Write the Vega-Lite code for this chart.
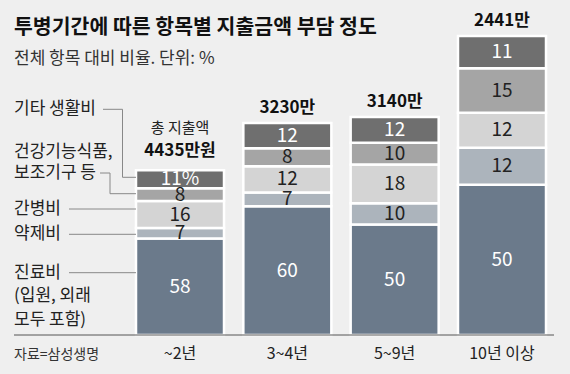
{
  "$schema": "https://vega.github.io/schema/vega-lite/v6.json",
  "width": 540,
  "height": 260,
  "autosize": {"type": "none"},
  "padding": {"left": 14, "top": 75, "right": 16, "bottom": 39},
  "background": "#efefef",
  "config": {"view": {"stroke": null}, "font": "Noto Sans CJK KR"},
  "title": {
    "text": "투병기간에 따른 항목별 지출금액 부담 정도",
    "subtitle": "전체 항목 대비 비율. 단위: %",
    "anchor": "start",
    "frame": "group",
    "font": "Noto Sans CJK KR",
    "fontSize": 20.5,
    "fontWeight": "bold",
    "color": "#111111",
    "subtitleFont": "Noto Sans CJK KR",
    "subtitleFontSize": 17,
    "subtitleColor": "#333333",
    "subtitlePadding": 13,
    "offset": -55
  },
  "datasets": {
    "costs": [
      {"period": "~2년", "item": "진료비", "rank": 1, "label": "58", "h": 96.5},
      {"period": "~2년", "item": "약제비", "rank": 2, "label": "7", "h": 10.5},
      {"period": "~2년", "item": "간병비", "rank": 3, "label": "16", "h": 27},
      {"period": "~2년", "item": "건강기능식품, 보조기구 등", "rank": 4, "label": "8", "h": 12.8},
      {"period": "~2년", "item": "기타 생활비", "rank": 5, "label": "11%", "h": 17.9},
      {"period": "3~4년", "item": "진료비", "rank": 1, "label": "60", "h": 128.7},
      {"period": "3~4년", "item": "약제비", "rank": 2, "label": "7", "h": 13.8},
      {"period": "3~4년", "item": "간병비", "rank": 3, "label": "12", "h": 26.3},
      {"period": "3~4년", "item": "건강기능식품, 보조기구 등", "rank": 4, "label": "8", "h": 17.9},
      {"period": "3~4년", "item": "기타 생활비", "rank": 5, "label": "12", "h": 25.2},
      {"period": "5~9년", "item": "진료비", "rank": 1, "label": "50", "h": 110.5},
      {"period": "5~9년", "item": "약제비", "rank": 2, "label": "10", "h": 21.3},
      {"period": "5~9년", "item": "간병비", "rank": 3, "label": "18", "h": 38.7},
      {"period": "5~9년", "item": "건강기능식품, 보조기구 등", "rank": 4, "label": "10", "h": 21.7},
      {"period": "5~9년", "item": "기타 생활비", "rank": 5, "label": "12", "h": 25.7},
      {"period": "10년 이상", "item": "진료비", "rank": 1, "label": "50", "h": 150.3},
      {"period": "10년 이상", "item": "약제비", "rank": 2, "label": "12", "h": 37},
      {"period": "10년 이상", "item": "간병비", "rank": 3, "label": "12", "h": 34.9},
      {"period": "10년 이상", "item": "건강기능식품, 보조기구 등", "rank": 4, "label": "15", "h": 44.5},
      {"period": "10년 이상", "item": "기타 생활비", "rank": 5, "label": "11", "h": 32.2}
    ],
    "totals": [
      {"period": "~2년", "total": "4435만원", "note": "총 지출액"},
      {"period": "3~4년", "total": "3230만", "note": ""},
      {"period": "5~9년", "total": "3140만", "note": ""},
      {"period": "10년 이상", "total": "2441만", "note": ""}
    ]
  },
  "data": {"name": "costs"},
  "layer": [
    {
      "mark": {"type": "bar", "stroke": "#ffffff", "strokeWidth": 2.5},
      "encoding": {
        "x": {
          "field": "period", "type": "nominal",
          "sort": ["~2년", "3~4년", "5~9년", "10년 이상"],
          "scale": {"range": [122, 532], "paddingInner": 0.18, "paddingOuter": 0},
          "axis": {"title": null, "domain": false, "ticks": false, "labelPadding": 10, "labelFont": "Noto Sans CJK KR", "labelFontSize": 16, "labelColor": "#222222", "labelAngle": 0}
        },
        "y": {"field": "h", "type": "quantitative", "stack": "zero", "scale": {"domain": [0, 260], "nice": false}, "axis": null},
        "color": {
          "field": "item", "type": "nominal",
          "scale": {"domain": ["진료비", "약제비", "간병비", "건강기능식품, 보조기구 등", "기타 생활비"], "range": ["#6b7a8b", "#acb4bc", "#d4d4d4", "#a5a5a5", "#6f6f6f"]},
          "legend": null
        },
        "order": {"field": "rank", "type": "quantitative"}
      }
    },
    {
      "mark": {"type": "text", "font": "Noto Sans CJK KR", "fontSize": 19, "baseline": "middle"},
      "encoding": {
        "x": {"field": "period", "type": "nominal", "sort": ["~2년", "3~4년", "5~9년", "10년 이상"]},
        "y": {"field": "h", "type": "quantitative", "stack": "zero", "bandPosition": 0.5},
        "order": {"field": "rank", "type": "quantitative"},
        "text": {"field": "label"},
        "color": {"condition": {"test": "datum.rank == 1 || datum.rank == 5", "value": "#ffffff"}, "value": "#222222"}
      }
    },
    {
      "transform": [
        {"aggregate": [{"op": "sum", "field": "h", "as": "top"}], "groupby": ["period"]},
        {"lookup": "period", "from": {"data": {"name": "totals"}, "key": "period", "fields": ["total", "note"]}},
        {"filter": "!datum.note"}
      ],
      "mark": {"type": "text", "fontSize": 17, "fontWeight": "bold", "baseline": "middle", "dy": -15, "color": "#111111"},
      "encoding": {
        "x": {"field": "period", "type": "nominal", "sort": ["~2년", "3~4년", "5~9년", "10년 이상"]},
        "y": {"field": "top", "type": "quantitative"},
        "text": {"field": "total"}
      }
    },
    {
      "transform": [
        {"aggregate": [{"op": "sum", "field": "h", "as": "top"}], "groupby": ["period"]},
        {"lookup": "period", "from": {"data": {"name": "totals"}, "key": "period", "fields": ["total", "note"]}},
        {"filter": "datum.note"}
      ],
      "mark": {"type": "text", "fontSize": 17, "fontWeight": "bold", "baseline": "middle", "dy": -19, "color": "#111111"},
      "encoding": {
        "x": {"field": "period", "type": "nominal", "sort": ["~2년", "3~4년", "5~9년", "10년 이상"]},
        "y": {"field": "top", "type": "quantitative"},
        "text": {"field": "total"}
      }
    },
    {
      "transform": [
        {"aggregate": [{"op": "sum", "field": "h", "as": "top"}], "groupby": ["period"]},
        {"lookup": "period", "from": {"data": {"name": "totals"}, "key": "period", "fields": ["total", "note"]}},
        {"filter": "datum.note"}
      ],
      "mark": {"type": "text", "fontSize": 15, "baseline": "middle", "dy": -42, "color": "#222222"},
      "encoding": {
        "x": {"field": "period", "type": "nominal", "sort": ["~2년", "3~4년", "5~9년", "10년 이상"]},
        "y": {"field": "top", "type": "quantitative"},
        "text": {"field": "note"}
      }
    },
    {
      "data": {"values": [{}]},
      "mark": {"type": "rule", "color": "#555555", "strokeWidth": 1},
      "encoding": {"y": {"datum": 0}}
    },
    {
      "data": {"values": [{}]},
      "mark": {"type": "text", "align": "left", "baseline": "middle", "fontSize": 17, "color": "#222222"},
      "encoding": {"x": {"value": 0}, "y": {"datum": 226}, "text": {"value": "기타 생활비"}}
    },
    {
      "data": {"values": [{}]},
      "mark": {"type": "text", "align": "left", "baseline": "middle", "fontSize": 17, "lineHeight": 21, "color": "#222222"},
      "encoding": {"x": {"value": 0}, "y": {"datum": 183}, "text": {"value": ["건강기능식품,", "보조기구 등"]}}
    },
    {
      "data": {"values": [{}]},
      "mark": {"type": "text", "align": "left", "baseline": "middle", "fontSize": 17, "color": "#222222"},
      "encoding": {"x": {"value": 0}, "y": {"datum": 126}, "text": {"value": "간병비"}}
    },
    {
      "data": {"values": [{}]},
      "mark": {"type": "text", "align": "left", "baseline": "middle", "fontSize": 17, "color": "#222222"},
      "encoding": {"x": {"value": 0}, "y": {"datum": 101}, "text": {"value": "약제비"}}
    },
    {
      "data": {"values": [{}]},
      "mark": {"type": "text", "align": "left", "baseline": "middle", "fontSize": 17, "lineHeight": 23.7, "color": "#222222"},
      "encoding": {"x": {"value": 0}, "y": {"datum": 62.5}, "text": {"value": ["진료비", "(입원, 외래", "모두 포함)"]}}
    },
    {
      "data": {"values": [{}]},
      "mark": {"type": "text", "align": "left", "baseline": "middle", "fontSize": 14, "color": "#333333"},
      "encoding": {"x": {"value": 0}, "y": {"datum": -20}, "text": {"value": "자료=삼성생명"}}
    },
    {
      "data": {"values": [{}]},
      "mark": {"type": "rule", "color": "#888888", "strokeWidth": 1},
      "encoding": {"x": {"value": 89}, "x2": {"value": 108.5}, "y": {"datum": 225.7}}
    },
    {
      "data": {"values": [{}]},
      "mark": {"type": "rule", "color": "#888888", "strokeWidth": 1},
      "encoding": {"x": {"value": 108.5}, "y": {"datum": 225.7}, "y2": {"datum": 157.7}}
    },
    {
      "data": {"values": [{}]},
      "mark": {"type": "rule", "color": "#888888", "strokeWidth": 1},
      "encoding": {"x": {"value": 108.5}, "x2": {"value": 122}, "y": {"datum": 157.7}}
    },
    {
      "data": {"values": [{}]},
      "mark": {"type": "rule", "color": "#888888", "strokeWidth": 1},
      "encoding": {"x": {"value": 86}, "x2": {"value": 96}, "y": {"datum": 162}}
    },
    {
      "data": {"values": [{}]},
      "mark": {"type": "rule", "color": "#888888", "strokeWidth": 1},
      "encoding": {"x": {"value": 96}, "y": {"datum": 162}, "y2": {"datum": 141.3}}
    },
    {
      "data": {"values": [{}]},
      "mark": {"type": "rule", "color": "#888888", "strokeWidth": 1},
      "encoding": {"x": {"value": 96}, "x2": {"value": 122}, "y": {"datum": 141.3}}
    },
    {
      "data": {"values": [{}]},
      "mark": {"type": "rule", "color": "#888888", "strokeWidth": 1},
      "encoding": {"x": {"value": 55}, "x2": {"value": 122}, "y": {"datum": 126}}
    },
    {
      "data": {"values": [{}]},
      "mark": {"type": "rule", "color": "#888888", "strokeWidth": 1},
      "encoding": {"x": {"value": 55}, "x2": {"value": 122}, "y": {"datum": 100.7}}
    },
    {
      "data": {"values": [{}]},
      "mark": {"type": "rule", "color": "#888888", "strokeWidth": 1},
      "encoding": {"x": {"value": 55}, "x2": {"value": 122}, "y": {"datum": 62.3}}
    }
  ]
}
